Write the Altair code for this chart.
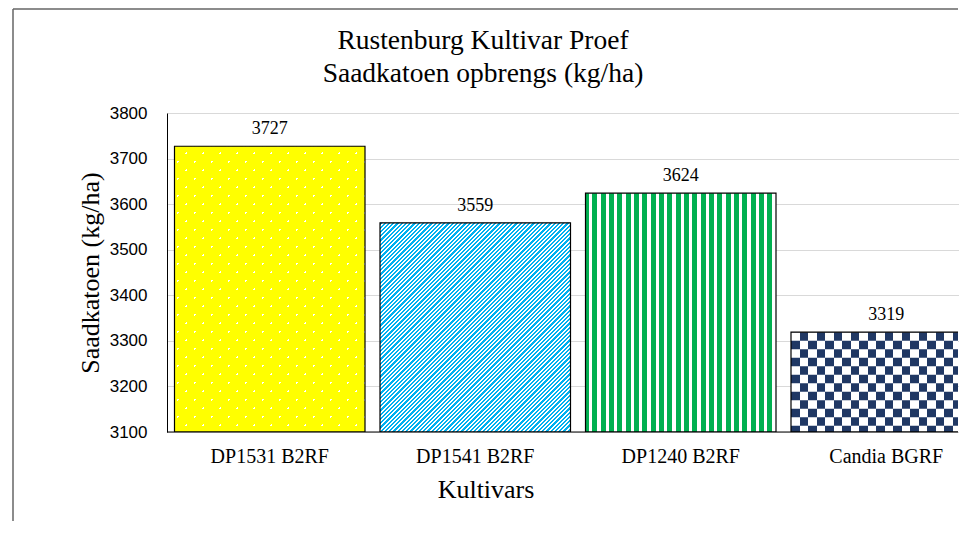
import altair as alt
import pandas as pd

# ---------------- data ----------------
cultivars = ["DP1531 B2RF", "DP1541 B2RF", "DP1240 B2RF", "Candia BGRF"]
yields = [3727, 3559, 3624, 3319]
y_ticks = [3100, 3200, 3300, 3400, 3500, 3600, 3700, 3800]
title_lines = ["Rustenburg Kultivar Proef", "Saadkatoen opbrengs (kg/ha)"]
y_title = "Saadkatoen (kg/ha)"
x_title = "Kultivars"

# ---------------- layout / style ----------------
W, H = 791, 319            # visible plot area
X_RANGE = 822              # band range: last bar runs past the visible edge (cropped)
Y_MIN, Y_MAX = 3100, 3800
PAD_IN = 0.073
PAD_OUT = PAD_IN / 2
FRAME_X, FRAME_TOP, FRAME_BOTTOM = -154, -104, 408
TITLE_X = 316

SERIF = "Liberation Serif"
SANS = "Liberation Sans"
CLEAR = "rgba(255,255,255,0)"
YELLOW, BLUE, GREEN, NAVY = "#ffff00", "#00b0f0", "#00b050", "#203864"

step = X_RANGE / (len(cultivars) - PAD_IN + 2 * PAD_OUT)
BAR_W = step * (1 - PAD_IN)


def px_height(v):
    return (v - Y_MIN) / (Y_MAX - Y_MIN) * H


def stripe_stops(period, duty, on, off, phase=0.0):
    s = (phase % period) - period
    stops = []

    def add(a, b, c):
        a, b = max(0.0, a), min(1.0, b)
        if b > a:
            stops.append(alt.GradientStop(offset=round(a, 5), color=c))
            stops.append(alt.GradientStop(offset=round(b, 5), color=c))

    while s < 1.0:
        e = s + duty * period
        add(s, e, on)
        add(e, s + period, off)
        s += period
    return stops


def diag_up(w, h, period_px, duty, on, off, phase_px=0.0):
    # stripes along x + y = const  ("/" direction), spacing measured horizontally
    L = w + h * h / w
    return alt.LinearGradient(gradient="linear", x1=0, y1=0, x2=1, y2=h / w,
                              stops=stripe_stops(period_px / L, duty, on, off, phase_px / L))


def diag_down(w, h, period_px, duty, on, off, phase_px=0.0):
    # stripes along x - y = const  ("\" direction)
    L = w + h * h / w
    return alt.LinearGradient(gradient="linear", x1=0, y1=1, x2=1, y2=1 - h / w,
                              stops=stripe_stops(period_px / L, duty, on, off, phase_px / L))


def vertical(w, period_px, duty, on, off, phase_px=0.0):
    return alt.LinearGradient(gradient="linear", x1=0, y1=0, x2=1, y2=0,
                              stops=stripe_stops(period_px / w, duty, on, off, phase_px / w))


df = pd.DataFrame({"cultivar": cultivars, "yield": yields})
val = dict(zip(cultivars, yields))

x_scale = alt.Scale(domain=cultivars, range=[0, X_RANGE], paddingInner=PAD_IN, paddingOuter=PAD_OUT)
y_scale = alt.Scale(domain=[Y_MIN, Y_MAX], zero=False, nice=False)
y_axis = alt.Axis(values=y_ticks, title=y_title, format="d")


def xe():
    return alt.X("cultivar:N", scale=x_scale, axis=None)


def ye(field="yield"):
    return alt.Y(f"{field}:Q", scale=y_scale, axis=y_axis, title=y_title)


def bar_fill(name, fill):
    return (alt.Chart(df).transform_filter(alt.datum.cultivar == name)
            .mark_bar(fill=fill, strokeWidth=0, clip=True)
            .encode(x=xe(), y=ye(), y2=alt.datum(Y_MIN)))


layers = []

# --- DP1531: yellow with white dots ---
c = cultivars[0]
h = px_height(val[c])
gap = 2.6
layers.append(bar_fill(c, "white"))
layers.append(bar_fill(c, diag_up(BAR_W, h, 17, 1 - gap / 17, YELLOW, CLEAR, 3)))
layers.append(bar_fill(c, diag_down(BAR_W, h, 17, 1 - gap / 17, YELLOW, CLEAR, 3)))

# --- DP1541: blue upward diagonal stripes ---
c = cultivars[1]
h = px_height(val[c])
layers.append(bar_fill(c, diag_up(BAR_W, h, 4.25, 0.55, BLUE, "white")))

# --- DP1240: green vertical stripes ---
c = cultivars[2]
layers.append(bar_fill(c, vertical(BAR_W, 8.33, 0.6, GREEN, "white", -1.5)))

# --- Candia: navy checkerboard ---
c = cultivars[3]
layers.append(bar_fill(c, NAVY))
cell_px = 8.5
cell_u = cell_px * (Y_MAX - Y_MIN) / H
rows = []
k = 0
while val[c] - k * cell_u > Y_MIN + 0.01:
    top = val[c] - k * cell_u
    rows.append({"cultivar": c, "top": top, "bot": max(Y_MIN, top - cell_u), "parity": k % 2})
    k += 1
rows_df = pd.DataFrame(rows)
for par in (0, 1):
    grad = vertical(BAR_W, 2 * cell_px, 0.5, "white", CLEAR, par * cell_px)
    layers.append(alt.Chart(rows_df).transform_filter(alt.datum.parity == par)
                  .mark_bar(fill=grad, strokeWidth=0, clip=True)
                  .encode(x=xe(), y=ye("top"), y2="bot:Q"))

# --- outlines ---
layers.append(alt.Chart(df).mark_bar(fillOpacity=0, stroke="black", strokeWidth=1.2, clip=True)
              .encode(x=xe(), y=ye(), y2=alt.datum(Y_MIN)))

# --- value labels ---
layers.append(alt.Chart(df).mark_text(font=SERIF, fontSize=18, baseline="alphabetic", dy=-12, color="black")
              .encode(x=xe(), y=ye(), text="yield:Q"))

# --- category labels (under each band) ---
layers.append(alt.Chart(df).mark_text(font=SERIF, fontSize=20, baseline="alphabetic", color="black")
              .encode(x=xe(), y=alt.value(H + 30.5), text="cultivar:N"))

one = pd.DataFrame({"k": [0]})
# axis title and chart title
layers.append(alt.Chart(one).mark_text(font=SERIF, fontSize=26, baseline="alphabetic", align="center",
                                       color="black", text=x_title)
              .encode(x=alt.value(319), y=alt.value(H + 66)))
for i, line in enumerate(title_lines):
    layers.append(alt.Chart(one).mark_text(font=SERIF, fontSize=27.5, baseline="alphabetic", align="center",
                                           color="black", text=line)
                  .encode(x=alt.value(TITLE_X), y=alt.value(-64 + 33.3 * i)))
# category axis line
layers.append(alt.Chart(one).mark_rule(color="black", strokeWidth=1)
              .encode(x=alt.value(0), x2=alt.value(W), y=alt.value(H)))
# chart frame (left and top edges)
layers.append(alt.Chart(one).mark_rule(color="#666666", strokeWidth=1.5)
              .encode(x=alt.value(FRAME_X), y=alt.value(FRAME_TOP), y2=alt.value(FRAME_BOTTOM)))
layers.append(alt.Chart(one).mark_rule(color="#666666", strokeWidth=1.5)
              .encode(x=alt.value(FRAME_X), x2=alt.value(W), y=alt.value(FRAME_TOP)))

chart = (
    alt.layer(*layers)
    .properties(
        width=W, height=H,
        padding={"left": 4, "top": 0, "right": 0, "bottom": 0},
        background="white",
    )
    .configure_view(stroke="transparent")
    .configure_axisY(grid=True, gridColor="#d9d9d9", gridWidth=1, domainColor="black", domainWidth=1,
                     ticks=False, tickSize=0, labelFont=SANS, labelFontSize=17, labelColor="black",
                     labelPadding=20, titleFont=SERIF, titleFontSize=26, titleFontWeight="normal",
                     titleColor="black", titleAngle=270, titleX=-69, titleY=H / 2,
                     titleBaseline="alphabetic", titleAlign="center")
)

chart.save("out.html", embed_options={"renderer": "svg", "actions": False})
